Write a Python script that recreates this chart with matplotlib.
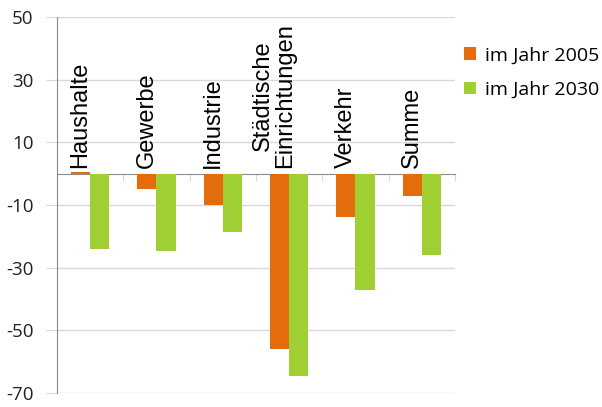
import matplotlib
matplotlib.use("Agg")
from matplotlib import pyplot as plt
from matplotlib.patches import Patch
import numpy as np

plt.rcParams['font.family'] = ['Open Sans', 'DejaVu Sans']

kategorien = ['Haushalte', 'Gewerbe', 'Industrie', 'Städtische\nEinrichtungen', 'Verkehr', 'Summe']
jahr_2005 = [0.5, -5, -10, -56, -13.7, -7]
jahr_2030 = [-24, -24.5, -18.5, -64.5, -37, -25.8]
serien = ['im Jahr 2005', 'im Jahr 2030']
farben = ['#e46c0a', '#9fcf33']
y_ticks = [-70, -50, -30, -10, 10, 30, 50]

fig = plt.figure(figsize=(6.02, 4.07), dpi=100)
ax = fig.add_axes([0.0947, 0.034, 0.661, 0.924])

x = np.arange(len(kategorien))
breite = 0.29
ax.bar(x - breite / 2, jahr_2005, breite, color=farben[0], zorder=3)
ax.bar(x + breite / 2, jahr_2030, breite, color=farben[1], zorder=3)

ax.set_xlim(-0.5, len(kategorien) - 0.5)
ax.set_ylim(-70, 50)
ax.set_yticks(y_ticks)
ax.set_yticklabels([str(t) for t in y_ticks], fontsize=13.5)
ax.yaxis.grid(True, color='#d9d9d9', linewidth=1, zorder=0)
ax.tick_params(axis='y', length=8, color='#d9d9d9', pad=9, labelcolor='#222222')

# x-Achse auf der Nulllinie, Striche zwischen den Kategorien
ax.spines['bottom'].set_position(('data', 0))
ax.spines['bottom'].set_color('#8c8c8c')
ax.set_xticks(np.arange(len(kategorien) + 1) - 0.5)
ax.set_xticklabels([])
ax.tick_params(axis='x', length=5, color='#d9d9d9', direction='out')
ax.spines['left'].set_color('#8c8c8c')
ax.spines['top'].set_visible(False)
ax.spines['right'].set_visible(False)

for xi, name in zip(x, kategorien):
    ax.text(xi - breite / 2 - (0.08 if '\n' in name else 0), 1.8, name, rotation=90,
            ha='center', va='bottom', multialignment='center',
            fontsize=17, family=['Liberation Sans', 'DejaVu Sans'],
            linespacing=1.0, zorder=4, clip_on=False)

griffe = [Patch(facecolor=f, edgecolor='none') for f in farben]
fig.legend(griffe, serien, loc='upper left', bbox_to_anchor=(0.758, 0.905),
           frameon=False, fontsize=14, handlelength=0.6, handleheight=0.6,
           handletextpad=0.5, labelspacing=0.85, borderaxespad=0)

fig.savefig('out.png', dpi=100)
